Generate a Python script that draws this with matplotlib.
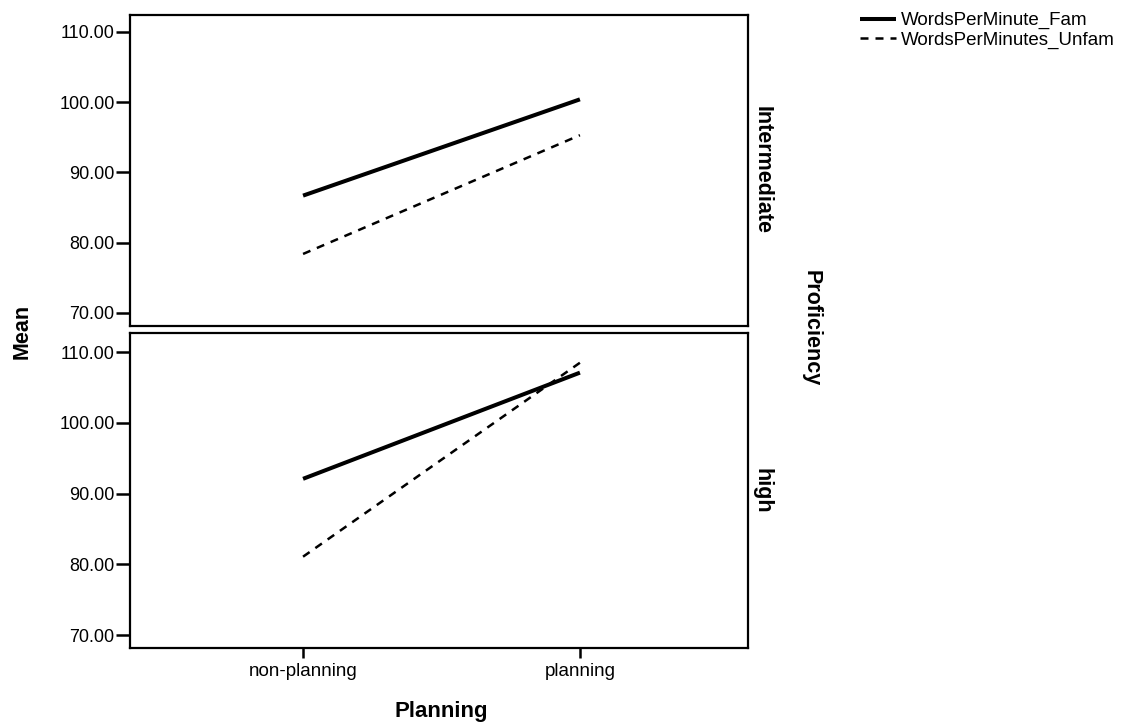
import matplotlib
matplotlib.use("Agg")
import matplotlib.pyplot as plt
from matplotlib.ticker import FormatStrFormatter

plt.rcParams['font.family'] = ['Liberation Sans', 'DejaVu Sans']

categories = ["non-planning", "planning"]
panels = ["Intermediate", "high"]
fam = {"Intermediate": [86.7, 100.4], "high": [92.1, 107.1]}
unfam = {"Intermediate": [78.4, 95.3], "high": [81.1, 108.5]}
yticks = [70, 80, 90, 100, 110]
series_names = ["WordsPerMinute_Fam", "WordsPerMinutes_Unfam"]

W, H = 1139, 726
fig = plt.figure(figsize=(W / 100, H / 100), dpi=100)
L, R = 130 / W, 748 / W
ax_top = fig.add_axes([L, (H - 326) / H, R - L, 311 / H])
ax_bot = fig.add_axes([L, (H - 648) / H, R - L, 315 / H], sharex=ax_top)

x = list(range(len(categories)))
handles = None
for ax, p, ylim in zip([ax_top, ax_bot], panels, [(68.15, 112.4), (68.2, 112.7)]):
    h1, = ax.plot(x, fam[p], color='black', lw=2.9, solid_capstyle='butt')
    h2, = ax.plot(x, unfam[p], color='black', lw=1.8, ls=(0, (3.2, 2.8)))
    handles = [h1, h2]
    ax.set_ylim(*ylim)
    ax.set_yticks(yticks)
    ax.yaxis.set_major_formatter(FormatStrFormatter('%.2f'))
    ax.set_xlim(-0.625, 1.607)
    for s in ax.spines.values():
        s.set_linewidth(1.6)
    ax.tick_params(axis='y', direction='out', length=10, width=1.8, labelsize=13, pad=1)
    ax.tick_params(axis='x', direction='out', length=7, width=1.8, labelsize=13.5, pad=4)
    ax.text(1.006, 0.5, p, transform=ax.transAxes, rotation=-90, ha='left', va='center',
            fontsize=15.5, fontweight='bold')

ax_top.tick_params(axis='x', bottom=False, labelbottom=False)
ax_bot.set_xticks(x)
ax_bot.set_xticklabels(categories)

fig.text(441 / W, (H - 711) / H, "Planning", ha='center', va='center',
         fontsize=16, fontweight='bold')
fig.text(22 / W, (H - 331) / H, "Mean", rotation=90, ha='center', va='center',
         fontsize=15.5, fontweight='bold')
fig.text(811 / W, (H - 328) / H, "Proficiency", rotation=-90, ha='center', va='center',
         fontsize=15.5, fontweight='bold')

fig.legend(handles, series_names, loc='upper left', bbox_to_anchor=(860 / W, (H - 12) / H),
           frameon=False, fontsize=13.5, handlelength=1.9, handletextpad=0.3,
           labelspacing=0.12, borderaxespad=0, borderpad=0)

fig.savefig("out.png", dpi=100)
